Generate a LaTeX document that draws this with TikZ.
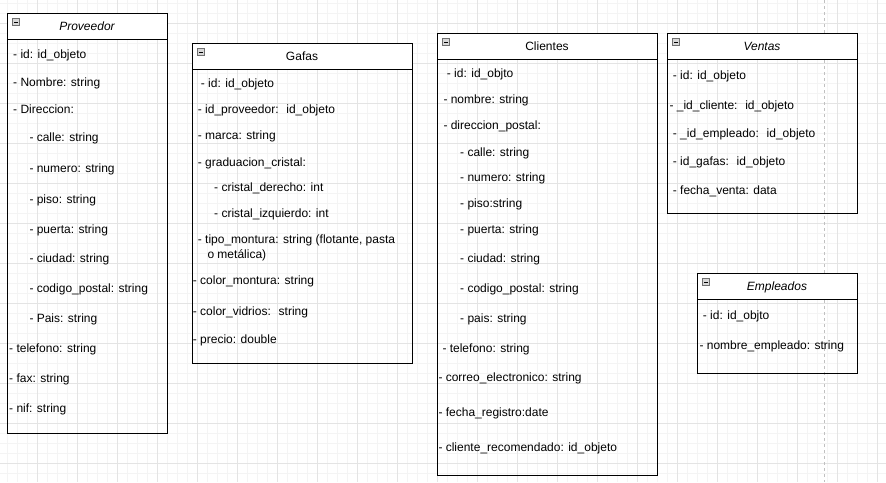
\documentclass[tikz,border=0pt]{standalone}
\usepackage{fontspec}
\setmainfont{Liberation Sans}
\definecolor{gridminor}{HTML}{F4F4F4}
\definecolor{gridmajor}{HTML}{E4E4E4}
\definecolor{pagebreak}{HTML}{C0C0C0}
\definecolor{iconfill}{HTML}{D8D8D8}
\definecolor{iconline}{HTML}{707070}
\newcommand{\classbox}[7]{%
  \fill[white] (#2,#3) rectangle (#4,#6);
  \draw[boxline] (#2,#3) rectangle (#4,#5);
  \draw[boxline] (#2,#6) -- (#4,#6);
  \draw[iconline, fill=iconfill, line width=0.7pt] ({#2+5.5},{#3+5.5}) rectangle ({#2+12.5},{#3+12.5});
  \draw[black, line width=0.9pt] ({#2+7},{#3+9}) -- ({#2+11},{#3+9});
  \node[titletext] (#1) at ({(#2+#4)/2},{(#3+#6)/2+4.3}) {#7};
}
\begin{document}
\begin{tikzpicture}[x=1pt,y=-1pt,
  boxline/.style={draw=black, line width=1pt},
  attr/.style={anchor=base west, inner sep=0pt, yshift=-1.2pt, font=\fontsize{12}{14}\selectfont},
  titletext/.style={anchor=base, inner sep=0pt, font=\fontsize{12}{14}\selectfont}]
\useasboundingbox (0,0) rectangle (886,482);
\fill[white] (0,0) rectangle (886,482);
% grid
\foreach \i in {0,...,87} {\draw[gridminor, line width=0.8pt] ({7+10*\i},0) -- ({7+10*\i},482);}
\foreach \i in {0,...,47} {\draw[gridminor, line width=0.8pt] (0,{3+10*\i}) -- (886,{3+10*\i});}
\foreach \i in {0,...,21} {\draw[gridmajor, line width=0.9pt] ({37+40*\i},0) -- ({37+40*\i},482);}
\foreach \i in {0,...,11} {\draw[gridmajor, line width=0.9pt] (0,{23+40*\i}) -- (886,{23+40*\i});}
% page break
\coordinate (pbtop) at (824.5,0);
\coordinate (pbbot) at (824.5,482);
\draw[pagebreak, line width=0.9pt, dash pattern=on 3pt off 3pt] (pbtop) -- (pbbot);

% Proveedor
\classbox{proveedor}{7}{13}{167}{433}{39}{\itshape Proveedor}
\node[attr] (p1) at (13,57.3) {- id: id\_objeto};
\node[attr] (p2) at (13,85.7) {- Nombre: string};
\node[attr] (p3) at (13,112.3) {- Direccion:};
\node[attr] (p4) at (29.3,140.7) {- calle: string};
\node[attr] (p5) at (29.3,171.3) {- numero: string};
\node[attr] (p6) at (29.3,202.3) {- piso: string};
\node[attr] (p7) at (29.3,232.3) {- puerta: string};
\node[attr] (p8) at (29.3,261.7) {- ciudad: string};
\node[attr] (p9) at (29.3,291.7) {- codigo\_postal: string};
\node[attr] (p10) at (29.3,321.7) {- Pais: string};
\node[attr] (p11) at (9,351.7) {- telefono: string};
\node[attr] (p12) at (9,381.7) {- fax: string};
\node[attr] (p13) at (9,411.7) {- nif: string};

% Gafas
\classbox{gafas}{192}{43}{412}{363}{69}{Gafas}
\node[attr] (g1) at (200.7,86.7) {- id: id\_objeto};
\node[attr] (g2) at (197.7,112.3) {- id\_proveedor:~ id\_objeto};
\node[attr] (g3) at (197.7,138.3) {- marca: string};
\node[attr] (g4) at (197.7,165) {- graduacion\_cristal:};
\node[attr] (g5) at (214,190.7) {- cristal\_derecho: int};
\node[attr] (g6) at (214,216.7) {- cristal\_izquierdo: int};
\node[attr] (g7) at (197.7,242.3) {- tipo\_montura: string (flotante, pasta};
\node[attr] (g7b) at (207.3,257.3) {o metálica)};
\node[attr] (g8) at (192.7,283) {- color\_montura: string};
\node[attr] (g9) at (192.7,314) {- color\_vidrios:~ string};
\node[attr] (g10) at (192.7,342.3) {- precio: double};

% Clientes
\classbox{clientes}{437}{33}{657}{475}{59.3}{Clientes}
\node[attr] (c1) at (446.7,76.7) {- id: id\_objto};
\node[attr] (c2) at (443.3,102.3) {- nombre: string};
\node[attr] (c3) at (443.3,128.3) {- direccion\_postal:};
\node[attr] (c4) at (460,155) {- calle: string};
\node[attr] (c5) at (460,180.7) {- numero: string};
\node[attr] (c6) at (460,206.7) {- piso:string};
\node[attr] (c7) at (460,232.3) {- puerta: string};
\node[attr] (c8) at (460,261.3) {- ciudad: string};
\node[attr] (c9) at (460,291.7) {- codigo\_postal: string};
\node[attr] (c10) at (460,321.7) {- pais: string};
\node[attr] (c11) at (442.3,351.7) {- telefono: string};
\node[attr] (c12) at (438.3,380.7) {- correo\_electronico: string};
\node[attr] (c13) at (438.3,415.7) {- fecha\_registro:date};
\node[attr] (c14) at (438.3,450.7) {- cliente\_recomendado: id\_objeto};

% Ventas
\classbox{ventas}{667}{33}{857}{213}{59.3}{\itshape Ventas}
\node[attr] (v1) at (672.7,78) {- id: id\_objeto};
\node[attr] (v2) at (669.3,108) {- \_id\_cliente:~ id\_objeto};
\node[attr] (v3) at (672.7,136.7) {- \_id\_empleado:~ id\_objeto};
\node[attr] (v4) at (672.7,164) {- id\_gafas:~ id\_objeto};
\node[attr] (v5) at (672.7,193) {- fecha\_venta: data};

% Empleados
\classbox{empleados}{697}{273}{857}{373}{299}{\itshape Empleados}
\node[attr] (e1) at (702.7,318) {- id: id\_objto};
\node[attr] (e2) at (699.3,348) {- nombre\_empleado: string};
\end{tikzpicture}
\end{document}
